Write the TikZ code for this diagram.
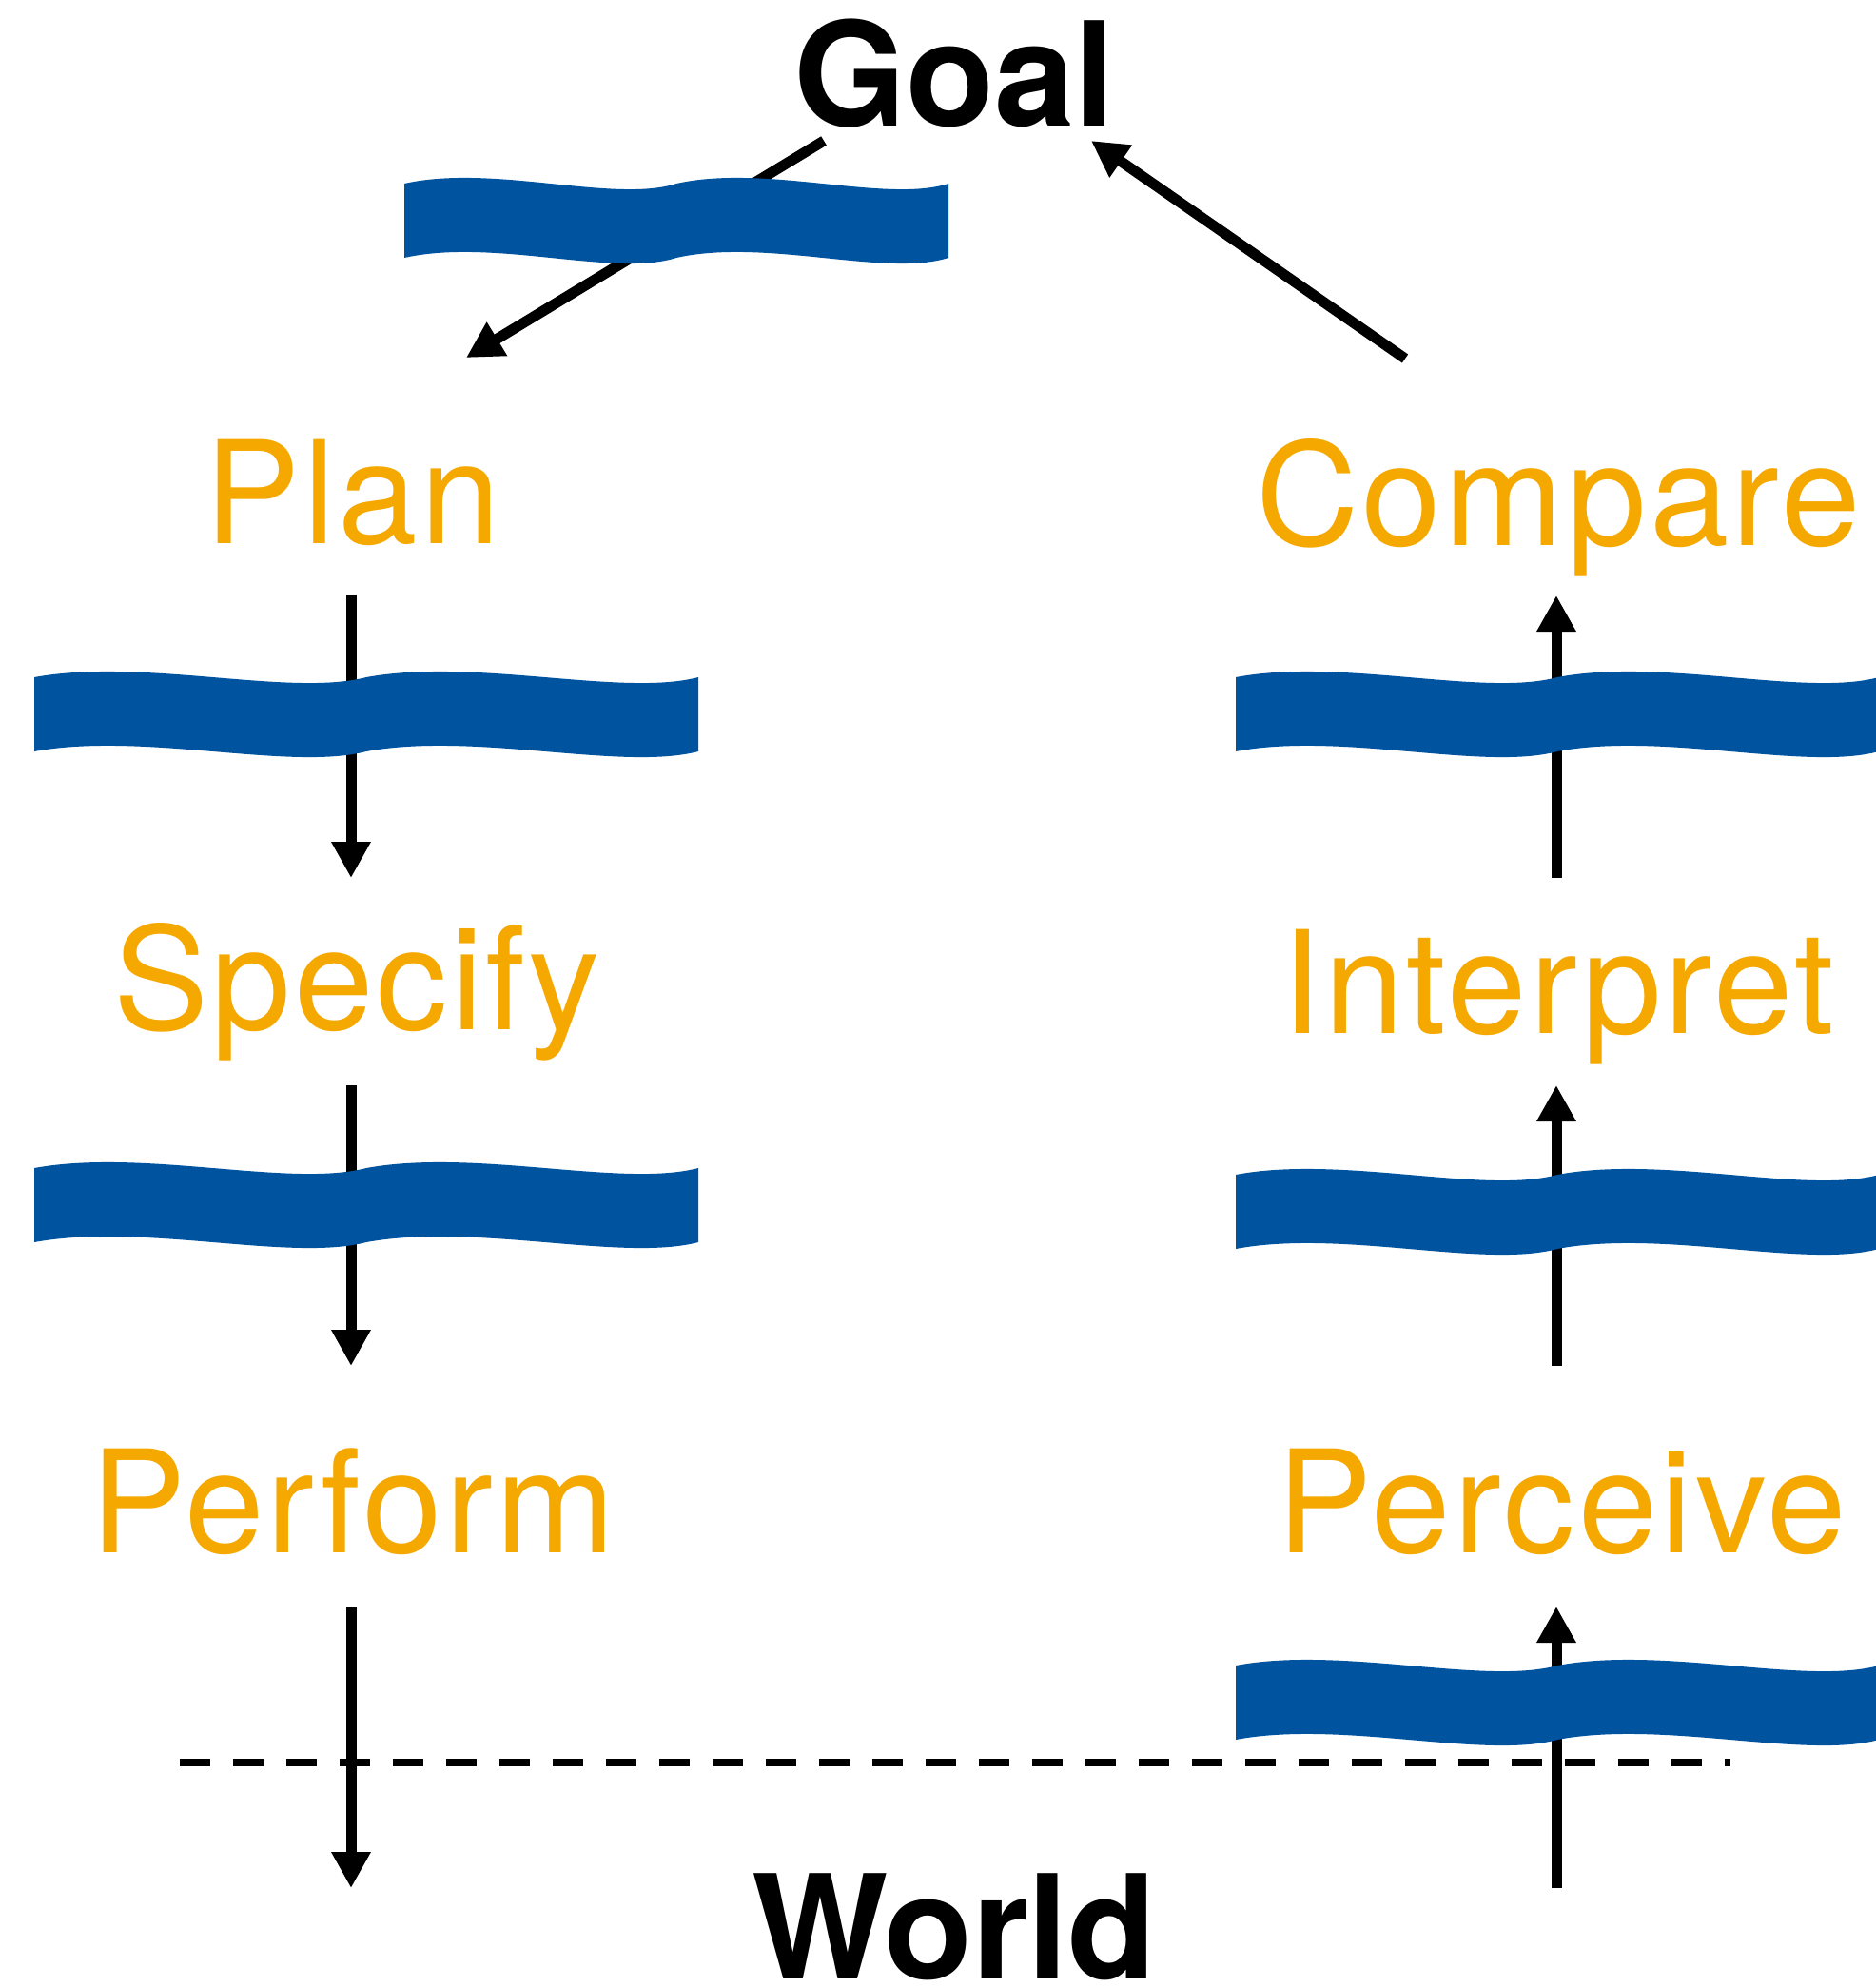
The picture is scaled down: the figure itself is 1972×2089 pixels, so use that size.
\documentclass[tikz,border=0pt]{standalone}
\usepackage{fontspec}
\setmainfont{TeX Gyre Heros}
\newfontfamily\stagefont[LetterSpace=2.2]{TeX Gyre Heros}
\usetikzlibrary{arrows.meta}

\definecolor{bandblue}{RGB}{0,83,159}
\definecolor{stageorange}{RGB}{245,168,0}

\begin{document}
\begin{tikzpicture}[x=1pt, y=-1pt,
    bigword/.style={anchor=base, inner sep=0pt, font=\fontsize{152}{160}\selectfont\bfseries},
    stage/.style={anchor=base, inner sep=0pt, text=stageorange, font=\stagefont\fontsize{150}{160}\selectfont},
    flow/.style={line width=11pt, -{Triangle[length=38pt, width=39pt]}},
    divider/.style={line width=8pt, dash pattern=on 32pt off 24pt}]
% Page size
\useasboundingbox (0,0) rectangle (1972,2089);

% Band height and wavy band: left x, top y, width
\def\bandh{78}
\def\waveband#1#2#3{%
  \fill[bandblue] (#1,#2)
    .. controls +({0.165*#3},-21) and +({-0.115*#3},21) .. ({#1+0.5*#3},#2)
    .. controls +({0.165*#3},-21) and +({-0.115*#3},21) .. ({#1+#3},#2)
    -- ({#1+#3},{#2+\bandh})
    .. controls +({-0.115*#3},21) and +({0.165*#3},-21) .. ({#1+0.5*#3},{#2+\bandh})
    .. controls +({-0.115*#3},21) and +({0.165*#3},-21) .. (#1,{#2+\bandh})
    -- cycle;}

% Labels
\node[bigword] (goal) at (1003,132) {Goal};
\node[bigword] (world) at (1003,2080) {World};
\node[stage] (plan) at (371,571) {Plan};
\node[stage] (specify) at (375,1082) {Specify};
\node[stage] (perform) at (371,1632) {Perform};
\node[stage] (compare) at (1638,573) {Compare};
\node[stage] (interpret) at (1638,1086) {Interpret};
\node[stage] (perceive) at (1642,1632) {Perceive};

% Arrow ends
\coordinate (goal-out) at (866,148);
\coordinate (goal-in) at (1147,148);
\coordinate (plan-in) at (490,376);
\coordinate (compare-out) at (1477,377);
\coordinate (plan-out) at (369,626);
\coordinate (specify-in) at (369,923);
\coordinate (specify-out) at (369,1141);
\coordinate (perform-in) at (369,1436);
\coordinate (perform-out) at (369,1689);
\coordinate (world-in) at (369,1985);
\coordinate (world-out) at (1636,1985);
\coordinate (perceive-in) at (1636,1689);
\coordinate (perceive-out) at (1636,1436);
\coordinate (interpret-in) at (1636,1141);
\coordinate (interpret-out) at (1636,923);
\coordinate (compare-in) at (1636,626);

% Execution side
\draw[flow] (goal-out) -- (plan-in);
\draw[flow] (plan-out) -- (specify-in);
\draw[flow] (specify-out) -- (perform-in);
\draw[flow] (perform-out) -- (world-in);

% Evaluation side
\draw[flow] (world-out) -- (perceive-in);
\draw[flow] (perceive-out) -- (interpret-in);
\draw[flow] (interpret-out) -- (compare-in);
\draw[flow] (compare-out) -- (goal-in);

% Line between person and world
\coordinate (sep-left) at (189,1853);
\coordinate (sep-right) at (1819,1853);
\draw[divider] (sep-left) -- (sep-right);

% Gulfs
\waveband{425}{193}{572}
\waveband{36}{712}{698}
\waveband{36}{1228}{698}
\waveband{1299}{712}{676}
\waveband{1299}{1235}{676}
\waveband{1299}{1751}{676}
\end{tikzpicture}
\end{document}
